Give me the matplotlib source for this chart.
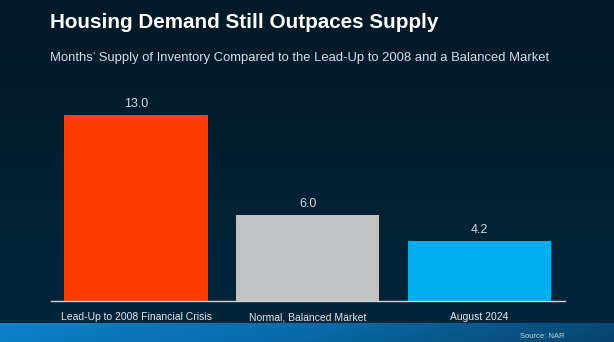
import matplotlib.pyplot as plt
import numpy as np
from matplotlib.colors import LinearSegmentedColormap

plt.rcParams['font.family'] = ['Liberation Sans', 'DejaVu Sans']

categories = ['Lead-Up to 2008 Financial Crisis', 'Normal, Balanced Market', 'August 2024']
months_supply = [13.0, 6.0, 4.2]
bar_colors = ['#ff3c00', '#c0c3c3', '#00adee']

W, H = 614, 342
fig = plt.figure(figsize=(W / 100, H / 100), dpi=100)

# dark navy background, slightly lighter toward the bottom
bg = fig.add_axes([0, 0, 1, 1])
bg.set_axis_off()
grad = np.linspace(0, 1, 256).reshape(-1, 1)
bg_cmap = LinearSegmentedColormap.from_list('bg', ['#011a29', '#03263d'])
bg.imshow(grad, aspect='auto', cmap=bg_cmap, extent=[0, 1, 0, 1], origin='upper')
bg.set_xlim(0, 1)
bg.set_ylim(0, 1)

# blue footer band
band_h = 19 / H
xx, yy = np.meshgrid(np.linspace(0, 1, 400), np.linspace(0, 1, 20))
band_val = np.clip(xx * 0.9 + (1 - yy) * 0.08, 0, 1)
band_cmap = LinearSegmentedColormap.from_list('band', ['#0a82cb', '#0a6aa8', '#07446e'])
bg.imshow(band_val, aspect='auto', cmap=band_cmap, extent=[0, 1, 0, band_h], origin='lower')

fig.text(50 / W, 1 - 23 / H, 'Housing Demand Still Outpaces Supply', color='white',
         fontsize=14.9, fontweight='bold', va='center', ha='left')
fig.text(50 / W, 1 - 58 / H,
         'Months\u2019 Supply of Inventory Compared to the Lead-Up to 2008 and a Balanced Market',
         color='#d8dde2', fontsize=9.4, va='center', ha='left')
fig.text(565 / W, 1 - 336 / H, 'Source: NAR', color='#c8d4de', fontsize=5.5,
         va='center', ha='right')

ax = fig.add_axes([51 / W, (H - 301) / H, 514 / W, 200 / H])
ax.set_facecolor('none')
x = np.arange(len(categories))
bars = ax.bar(x, months_supply, width=0.834, color=bar_colors, zorder=2)
ax.set_xlim(-0.4956, 2.4985)
ax.set_ylim(0, 14.0)

for b, v in zip(bars, months_supply):
    ax.text(b.get_x() + b.get_width() / 2, v + 0.35, f'{v:.1f}', ha='center', va='bottom',
            color='#d5d9dc', fontsize=9)

for s in ['top', 'right', 'left']:
    ax.spines[s].set_visible(False)
ax.spines['bottom'].set_color('#d0d4d8')
ax.spines['bottom'].set_linewidth(1.0)
ax.set_yticks([])
ax.set_xticks(x)
ax.set_xticklabels(categories, color='#e2e6ea', fontsize=7.5)
ax.tick_params(axis='x', length=0, pad=8)

fig.savefig('out.png', dpi=100)
